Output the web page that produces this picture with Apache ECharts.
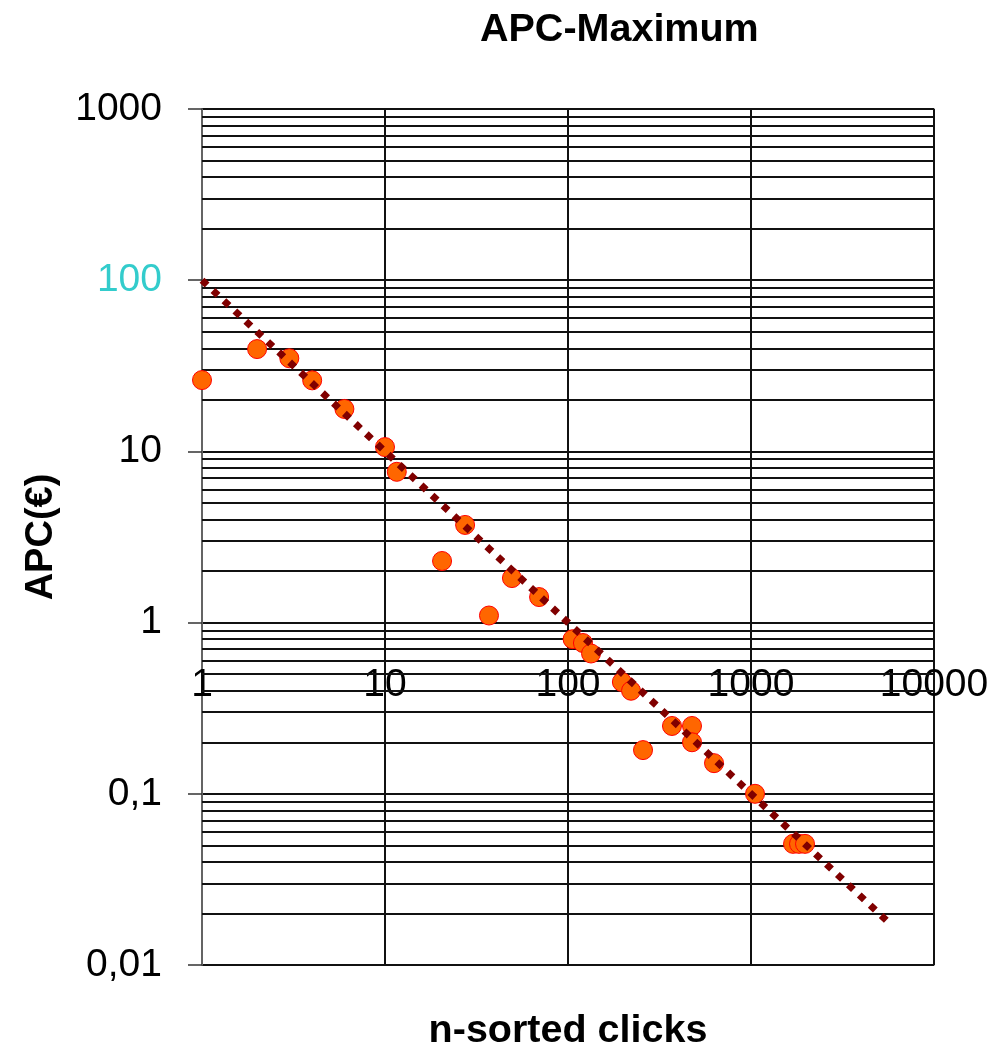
<!DOCTYPE html>
<html><head><meta charset="utf-8">
<script src="https://cdn.jsdelivr.net/npm/echarts@6/dist/echarts.min.js"></script>
<style>html,body{margin:0;padding:0;background:#fff;overflow:hidden}#c{width:1008px;height:1045px}</style>
</head><body><div id="c"></div>
<script>
// Data
const clicks = [1, 2, 3, 4, 6, 10, 11.6, 20.5, 27.4, 37, 49.4, 69.5, 106, 120.7, 133.6, 197, 221, 257, 370, 476, 476, 628, 1052, 1697, 1830, 1973];
const apc = [26.1, 39.6, 35, 26, 17.7, 10.6, 7.6, 2.29, 3.72, 1.1, 1.82, 1.41, 0.80, 0.76, 0.66, 0.45, 0.40, 0.18, 0.249, 0.249, 0.20, 0.151, 0.1, 0.051, 0.051, 0.051];
// Power trend line end points (as drawn in the picture)
const trendX = [1, 5500];
const trendY = [100, 0.0182];
// Axis ranges and labels
const xMin = 1, xMax = 10000;
const yMin = 0.01, yMax = 1000;
const xTickLabels = ['1', '10', '100', '1000', '10000'];
const yTickLabels = ['0,01', '0,1', '1', '10', '100', '1000'];
const yMinorMultipliers = [2, 3, 4, 5, 6, 7, 8, 9];
const yDecades = [0.01, 0.1, 1, 10, 100];

const FONT = '"Liberation Sans", Arial, sans-serif';
const GRID_COLOR = '#111';
const GRID_W = 2;

const minorVals = [];
yDecades.forEach(d => yMinorMultipliers.forEach(m => minorVals.push(+(m * d).toPrecision(3))));

function labelFor(v, list) {
  const idx = Math.round(Math.log10(v) - Math.log10(list === xTickLabels ? xMin : yMin));
  return list[idx] !== undefined ? list[idx] : '';
}

const chart = echarts.init(document.getElementById('c'), null, {renderer: 'canvas'});
chart.setOption({
  animation: false,
  backgroundColor: '#fff',
  title: {
    text: 'APC-Maximum',
    left: 480, top: 10, padding: 0,
    textStyle: {fontFamily: FONT, fontSize: 39.5, fontWeight: 'bold', color: '#000'}
  },
  grid: {left: 202, top: 109, right: 74, bottom: 80, containLabel: false, outerBoundsMode: 'none',
         show: true, borderColor: '#808080', borderWidth: 1.5},
  xAxis: [
    {
      type: 'log', logBase: 10, min: xMin, max: xMax, position: 'bottom',
      axisLine: {show: false}, axisTick: {show: false}, axisLabel: {show: false},
      splitLine: {show: true, lineStyle: {color: GRID_COLOR, width: GRID_W}},
      name: 'n-sorted clicks', nameLocation: 'middle', nameGap: 46,
      nameTextStyle: {fontFamily: FONT, fontSize: 39.5, fontWeight: 'bold', color: '#000'}
    },
    {
      type: 'log', logBase: 10, min: xMin, max: xMax, position: 'bottom', offset: -343,
      axisLine: {show: false}, axisTick: {show: false}, splitLine: {show: false},
      axisLabel: {
        show: true, margin: 44, fontFamily: FONT, fontSize: 39, color: '#000',
        formatter: v => labelFor(v, xTickLabels)
      }
    }
  ],
  yAxis: {
    type: 'log', logBase: 10, min: yMin, max: yMax,
    axisLine: {show: true, lineStyle: {color: '#808080', width: 1.5}},
    axisTick: {show: true, length: 14, lineStyle: {color: '#333', width: 1.5}},
    axisLabel: {
      margin: 40, fontFamily: FONT, fontSize: 39,
      color: v => (Math.abs(v - 100) < 1e-9 ? '#33CCCC' : '#000'),
      formatter: v => labelFor(v, yTickLabels)
    },
    splitLine: {show: true, lineStyle: {color: GRID_COLOR, width: GRID_W}},
    name: 'APC(€)', nameLocation: 'middle', nameGap: 141,
    nameTextStyle: {fontFamily: FONT, fontSize: 38, fontWeight: 'bold', color: '#000'}
  },
  series: [
    {
      type: 'scatter', xAxisIndex: 0, z: 3,
      data: clicks.map((x, i) => [x, apc[i]]),
      symbol: 'circle', symbolSize: 19,
      itemStyle: {color: '#FF6600', borderColor: '#FF0000', borderWidth: 1, opacity: 1},
      markLine: {
        z: 1, silent: true, symbol: ['none', 'none'], animation: false,
        label: {show: false},
        lineStyle: {color: GRID_COLOR, width: GRID_W, type: 'solid'},
        emphasis: {disabled: true},
        data: minorVals.map(v => ({yAxis: v}))
      }
    },
    {
      type: 'line', xAxisIndex: 0, z: 4,
      data: trendX.map((x, i) => [x, trendY[i]]),
      symbol: 'none', showSymbol: false,
      lineStyle: {color: '#800000', width: 7, type: [7, 8], cap: 'butt'}
    }
  ]
});
</script>
</body></html>
